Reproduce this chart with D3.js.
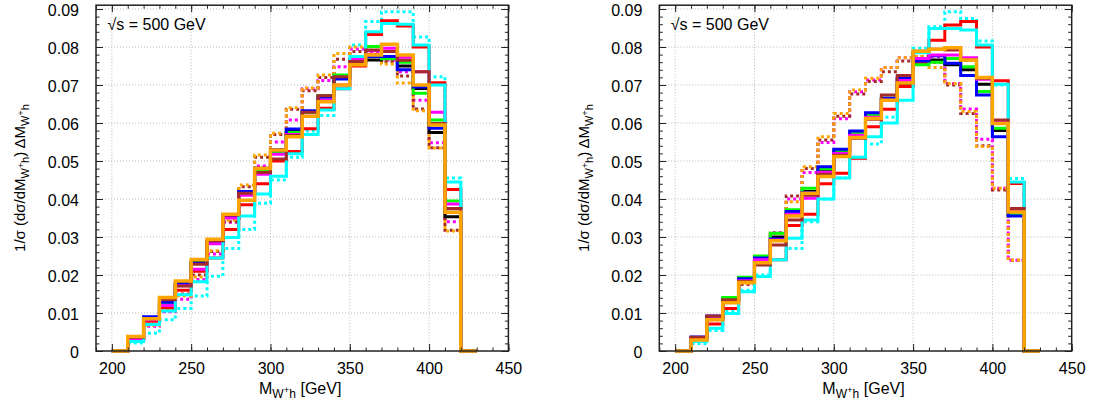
<!DOCTYPE html>
<html>
<head>
<meta charset="utf-8">
<script src="https://cdn.jsdelivr.net/npm/d3@7"></script>
<style>
  body { margin: 0; background: #fff; }
  text { font-family: "Liberation Sans", Arial, Helvetica, sans-serif; fill: #000; }
</style>
</head>
<body>
<svg id="chart" width="1098" height="408"></svg>
<script>
// Bin edges of the W+h invariant-mass histogram (GeV): 23 bins of 10 GeV
const binEdges = [200,210,220,230,240,250,260,270,280,290,300,310,320,330,340,350,360,370,380,390,400,410,420,430];
const xTicks = [200,250,300,350,400,450];
const xTickLabels = ["200","250","300","350","400","450"];
const yTicks = [0,0.01,0.02,0.03,0.04,0.05,0.06,0.07,0.08,0.09];
const yTickLabels = ["0","0.01","0.02","0.03","0.04","0.05","0.06","0.07","0.08","0.09"];
const energyLabel = "\u221As = 500 GeV";

// ---- left panel: normalised distributions per bin ----
const leftBlack   = [0,.0035,.0085,.0132,.0178,.0232,.0288,.0358,.0418,.0481,.0527,.0580,.0630,.0672,.0718,.0758,.0766,.0770,.0750,.0691,.0575,.0353,0];
const leftBlue    = [0,.0033,.0090,.0128,.0176,.0230,.0286,.0352,.0420,.0470,.0530,.0584,.0632,.0668,.0716,.0761,.0775,.0775,.0740,.0695,.0586,.0365,0];
const leftGreen   = [0,.0033,.0083,.0123,.0174,.0231,.0284,.0354,.0414,.0474,.0522,.0575,.0628,.0671,.0726,.0766,.0801,.0769,.0760,.0678,.0608,.0395,0];
const leftMagenta = [0,.0032,.0082,.0120,.0172,.0215,.0282,.0350,.0410,.0465,.0518,.0570,.0618,.0660,.0700,.0769,.0790,.0797,.0773,.0735,.0628,.0387,0];
const leftRed     = [0,.0028,.0078,.0114,.0160,.0210,.0245,.0320,.0385,.0440,.0500,.0525,.0585,.0639,.0690,.0750,.0833,.0869,.0855,.0800,.0706,.0425,0];
const leftBrown   = [0,.0036,.0085,.0135,.0171,.0228,.0290,.0358,.0415,.0470,.0505,.0567,.0628,.0672,.0722,.0762,.0792,.0788,.0765,.0735,.0599,.0375,0];
const leftOrange  = [0,.0038,.0085,.0141,.0184,.0241,.0294,.0360,.0397,.0480,.0529,.0564,.0618,.0656,.0700,.0753,.0779,.0807,.0779,.0700,.0595,.0365,0];
const leftCyan    = [0,.0025,.0070,.0105,.0148,.0182,.0245,.0299,.0355,.0413,.0460,.0519,.0570,.0634,.0690,.0775,.0840,.0862,.0860,.0805,.0700,.0445,0];
const leftCyanDot    = [0,.0021,.0047,.0082,.0112,.0145,.0197,.0270,.0320,.0389,.0450,.0510,.0579,.0620,.0720,.0805,.0867,.0893,.0893,.0826,.0722,.0455,0];
const leftMagentaDot = [0,.0025,.0065,.0103,.0136,.0188,.0255,.0339,.0420,.0487,.0550,.0608,.0690,.0712,.0748,.0795,.0785,.0765,.0735,.0660,.0548,.0340,0];
const leftBrownDot   = [0,.0030,.0070,.0110,.0150,.0200,.0262,.0340,.0432,.0510,.0570,.0636,.0685,.0720,.0768,.0788,.0780,.0762,.0724,.0637,.0535,.0318,0];
const leftOrangeDot  = [0,.0028,.0068,.0108,.0145,.0195,.0264,.0345,.0437,.0516,.0573,.0640,.0692,.0726,.0783,.0800,.0780,.0755,.0705,.0632,.0534,.0316,0];

// ---- right panel ----
const rightBlack   = [0,.0034,.0090,.0135,.0188,.0243,.0300,.0365,.0420,.0478,.0522,.0572,.0620,.0662,.0700,.0760,.0766,.0753,.0740,.0702,.0580,.0358,0];
const rightBlue    = [0,.0037,.0092,.0132,.0190,.0245,.0295,.0367,.0417,.0485,.0531,.0579,.0627,.0665,.0718,.0763,.0777,.0757,.0725,.0674,.0564,.0355,0];
const rightGreen   = [0,.0033,.0088,.0141,.0194,.0250,.0310,.0372,.0428,.0480,.0528,.0575,.0620,.0665,.0715,.0753,.0760,.0770,.0748,.0683,.0586,.0360,0];
const rightMagenta = [0,.0032,.0085,.0128,.0185,.0240,.0292,.0360,.0402,.0470,.0520,.0568,.0615,.0660,.0712,.0770,.0779,.0779,.0772,.0715,.0604,.0371,0];
const rightRed     = [0,.0030,.0071,.0112,.0187,.0231,.0240,.0330,.0360,.0440,.0468,.0507,.0590,.0636,.0696,.0760,.0818,.0858,.0867,.0800,.0711,.0441,0];
const rightBrown   = [0,.0036,.0092,.0135,.0183,.0226,.0279,.0345,.0410,.0465,.0515,.0560,.0610,.0674,.0725,.0789,.0794,.0792,.0766,.0718,.0608,.0375,0];
const rightOrange  = [0,.0029,.0082,.0127,.0180,.0232,.0290,.0355,.0415,.0459,.0512,.0562,.0612,.0660,.0705,.0789,.0794,.0798,.0766,.0720,.0599,.0366,0];
const rightCyan    = [0,.0025,.0060,.0099,.0156,.0196,.0240,.0297,.0345,.0400,.0455,.0510,.0564,.0600,.0660,.0785,.0849,.0849,.0845,.0805,.0702,.0445,0];
const rightCyanDot    = [0,.0020,.0054,.0105,.0160,.0200,.0240,.0270,.0340,.0400,.0455,.0510,.0545,.0615,.0700,.0797,.0853,.0893,.0875,.0816,.0700,.0454,0];
const rightMagentaDot = [0,.0030,.0082,.0141,.0178,.0238,.0312,.0400,.0470,.0549,.0611,.0682,.0713,.0746,.0772,.0770,.0775,.0704,.0637,.0557,.0428,.0239,0];
const rightBrownDot   = [0,.0032,.0085,.0138,.0175,.0240,.0310,.0408,.0480,.0555,.0618,.0676,.0709,.0735,.0763,.0775,.0760,.0700,.0625,.0540,.0424,.0239,0];
const rightOrangeDot  = [0,.0030,.0085,.0141,.0178,.0240,.0310,.0393,.0485,.0564,.0625,.0687,.0718,.0746,.0772,.0775,.0746,.0704,.0630,.0538,.0428,.0239,0];

// line styles, in drawing order (later ones on top)
const styles = [
  {key:"CyanDot",    color:"#00ffff", dash:"3,3"},
  {key:"MagentaDot", color:"#ff00ff", dash:"3,3"},
  {key:"BrownDot",   color:"#a52a2a", dash:"3,3"},
  {key:"OrangeDot",  color:"#ffa500", dash:"3,3"},
  {key:"Black",      color:"#000000", dash:null},
  {key:"Red",        color:"#ff0000", dash:null},
  {key:"Green",      color:"#00ff00", dash:null},
  {key:"Blue",       color:"#0000ff", dash:null},
  {key:"Magenta",    color:"#ff00ff", dash:null},
  {key:"Cyan",       color:"#00ffff", dash:null},
  {key:"Brown",      color:"#a52a2a", dash:null},
  {key:"Orange",     color:"#ffa500", dash:null}
];

const leftSeries = {Black:leftBlack, Blue:leftBlue, Green:leftGreen, Magenta:leftMagenta, Red:leftRed,
  Brown:leftBrown, Orange:leftOrange, Cyan:leftCyan, CyanDot:leftCyanDot, MagentaDot:leftMagentaDot,
  BrownDot:leftBrownDot, OrangeDot:leftOrangeDot};
const rightSeries = {Black:rightBlack, Blue:rightBlue, Green:rightGreen, Magenta:rightMagenta, Red:rightRed,
  Brown:rightBrown, Orange:rightOrange, Cyan:rightCyan, CyanDot:rightCyanDot, MagentaDot:rightMagentaDot,
  BrownDot:rightBrownDot, OrangeDot:rightOrangeDot};

const svg = d3.select("#chart");
const plotTop = 5.2, plotBottom = 351;
const panels = [
  {x0: 96,    x1: 508.4,  series: leftSeries,  titleX: 20},
  {x0: 659.3, x1: 1071.7, series: rightSeries, titleX: 584}
];

// writes M_{W^+h}; leaves the baseline shifted down by 4px
function addMassLabel(sel, small, firstDy) {
  sel.append("tspan").attr("dy", firstDy).text("M");
  sel.append("tspan").attr("font-size", small).attr("dy", 4).text("W");
  sel.append("tspan").attr("font-size", small * 0.8).attr("dy", -5).text("+");
  sel.append("tspan").attr("font-size", small).attr("dy", 5).text("h");
}

panels.forEach(p => {
  const x = d3.scaleLinear().domain([190, 450]).range([p.x0, p.x1]);
  const y = d3.scaleLinear().domain([0, 0.091]).range([plotBottom, plotTop]);
  const g = svg.append("g");

  // grid
  g.append("g").selectAll("line").data(yTicks.slice(1)).join("line")
    .attr("x1", p.x0).attr("x2", p.x1).attr("y1", d => y(d)).attr("y2", d => y(d))
    .attr("stroke", "#b8b8b8").attr("stroke-width", 1).attr("stroke-dasharray", "1,2");
  g.append("g").selectAll("line").data(xTicks.slice(0, -1)).join("line")
    .attr("x1", d => x(d)).attr("x2", d => x(d)).attr("y1", plotTop).attr("y2", plotBottom)
    .attr("stroke", "#b8b8b8").attr("stroke-width", 1).attr("stroke-dasharray", "1,2");

  // histogram steps
  const line = d3.line().x(d => x(d[0])).y(d => y(d[1])).curve(d3.curveStepAfter);
  styles.forEach(s => {
    const vals = p.series[s.key];
    const pts = binEdges.map((e, i) => [e, vals[Math.min(i, vals.length - 1)]]);
    g.append("path").datum(pts).attr("d", line)
      .attr("fill", "none").attr("stroke", s.color)
      .attr("stroke-width", s.key === "Orange" ? 3.5 : 3)
      .attr("stroke-dasharray", s.dash)
      .attr("stroke-linejoin", "miter").attr("stroke-linecap", "butt");
  });

  // axes with inward ticks on all sides
  const yMajor = d3.axisLeft(y).tickValues(yTicks).tickSize(-7).tickFormat((d, i) => yTickLabels[i]).tickPadding(17);
  const yMinor = d3.axisLeft(y).tickValues(d3.range(0, 0.0901, 0.002)).tickSize(-3.5).tickFormat("");
  const xMajor = d3.axisBottom(x).tickValues(xTicks).tickSize(-7).tickFormat((d, i) => xTickLabels[i]).tickPadding(12);
  const xMinor = d3.axisBottom(x).tickValues(d3.range(190, 451, 10)).tickSize(-3.5).tickFormat("");

  const ya = g.append("g").attr("transform", `translate(${p.x0},0)`).call(yMajor);
  g.append("g").attr("transform", `translate(${p.x0},0)`).call(yMinor);
  g.append("g").attr("transform", `translate(${p.x1},0)`).call(d3.axisRight(y).tickValues(yTicks).tickSize(-7).tickFormat(""));
  g.append("g").attr("transform", `translate(${p.x1},0)`).call(d3.axisRight(y).tickValues(d3.range(0, 0.0901, 0.002)).tickSize(-3.5).tickFormat(""));
  const xa = g.append("g").attr("transform", `translate(0,${plotBottom})`).call(xMajor);
  g.append("g").attr("transform", `translate(0,${plotBottom})`).call(xMinor);
  g.append("g").attr("transform", `translate(0,${plotTop})`).call(d3.axisTop(x).tickValues(xTicks).tickSize(-7).tickFormat(""));
  g.append("g").attr("transform", `translate(0,${plotTop})`).call(d3.axisTop(x).tickValues(d3.range(190, 451, 10)).tickSize(-3.5).tickFormat(""));

  g.selectAll(".domain").remove();
  g.selectAll(".tick line").attr("stroke", "#222").attr("stroke-width", 1);
  ya.selectAll("text").attr("font-size", 16).attr("font-family", "Liberation Sans, Arial, sans-serif").attr("dy", "0.4em");
  xa.selectAll("text").attr("font-size", 16).attr("font-family", "Liberation Sans, Arial, sans-serif");

  // frame
  g.append("rect").attr("x", p.x0).attr("y", plotTop).attr("width", p.x1 - p.x0).attr("height", plotBottom - plotTop)
    .attr("fill", "none").attr("stroke", "#222").attr("stroke-width", 1.5);

  // energy label
  g.append("text").attr("x", p.x0 + 11.5).attr("y", 30).attr("font-size", 16).text(energyLabel);

  // x-axis title
  const xt = g.append("text").attr("x", (p.x0 + p.x1) / 2 - 2).attr("y", 394)
    .attr("text-anchor", "middle").attr("font-size", 16);
  addMassLabel(xt, 12, 0);
  xt.append("tspan").attr("dy", -4).text(" [GeV]");

  // y-axis title
  const yt = g.append("text").attr("transform", `translate(${p.titleX + 5},${(plotTop + plotBottom) / 2}) rotate(-90)`)
    .attr("text-anchor", "middle").attr("font-size", 15);
  yt.append("tspan").text("1/\u03C3 (d\u03C3/d");
  addMassLabel(yt, 11, 0);
  yt.append("tspan").attr("dy", -4).text(") \u0394");
  addMassLabel(yt, 11, 0);
});
</script>
</body>
</html>
